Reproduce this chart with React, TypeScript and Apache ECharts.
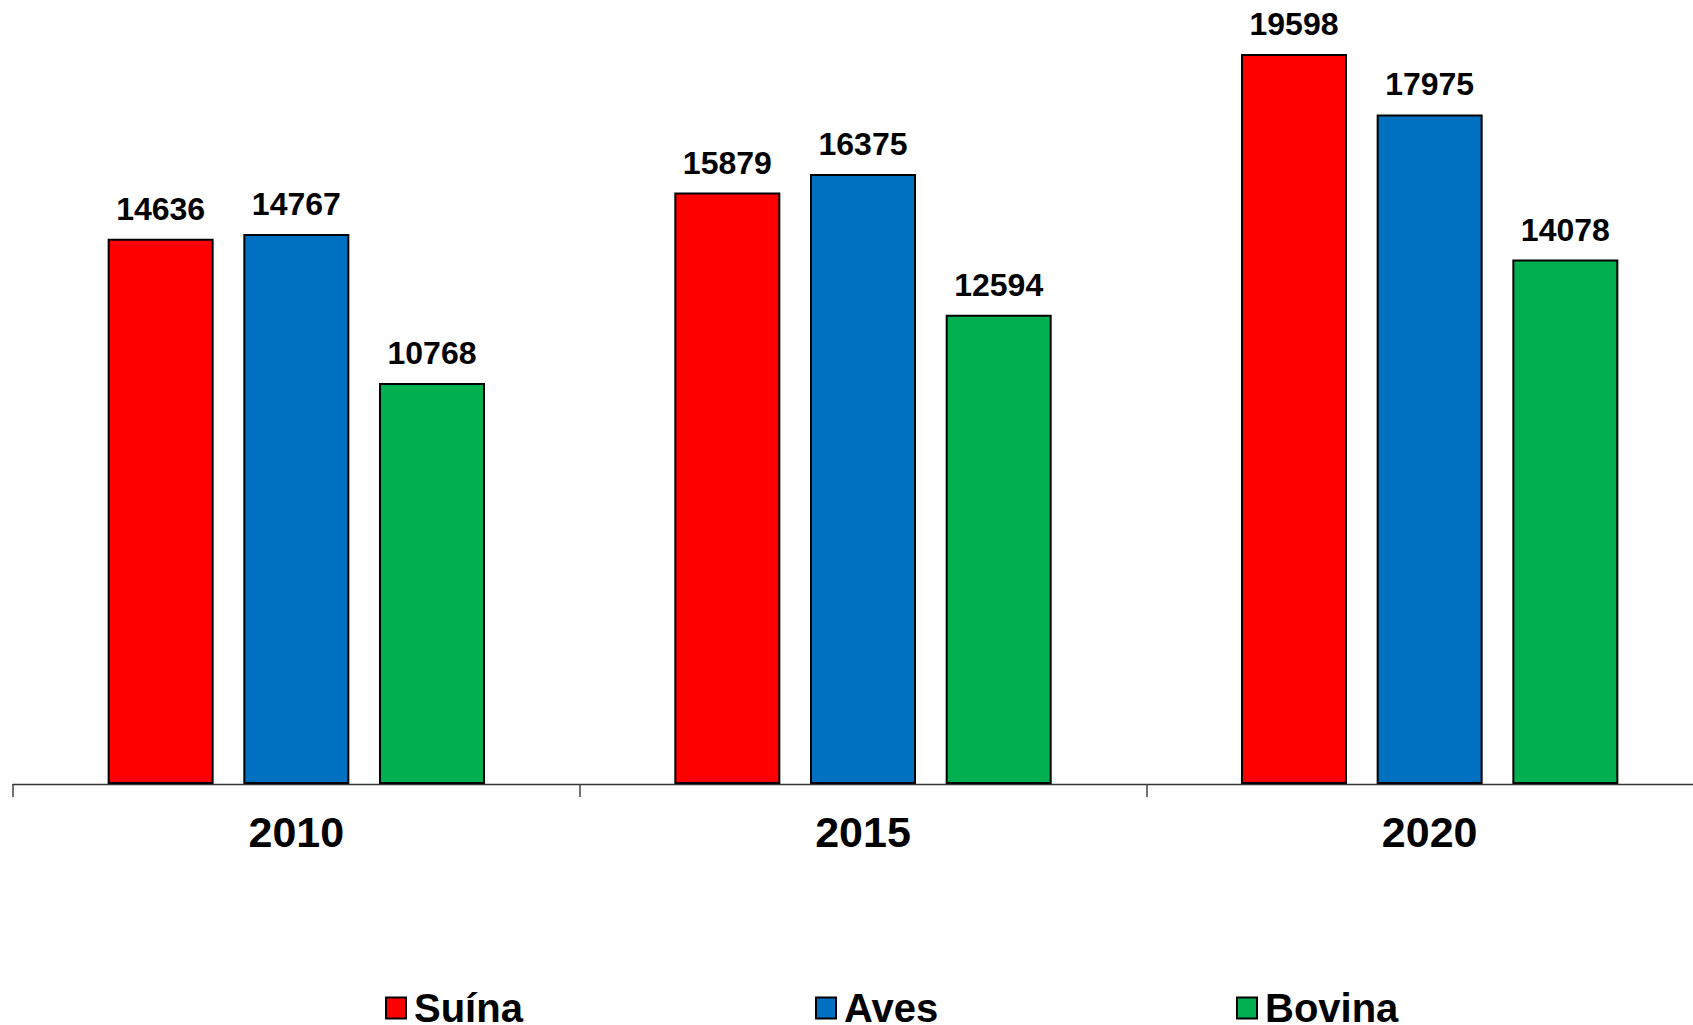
import React, { useEffect, useRef } from "react";
import * as echarts from "echarts";

const categories = ["2010", "2015", "2020"];
const suina = [14636, 15879, 19598];
const aves = [14767, 16375, 17975];
const bovina = [10768, 12594, 14078];
const seriesNames = ["Suína", "Aves", "Bovina"];
const colors = ["#FF0000", "#0070C0", "#00B050"];

const FONT = '"Liberation Sans", Arial, Helvetica, sans-serif';

export default function App() {
  const ref = useRef<HTMLDivElement>(null);
  useEffect(() => {
    if (!ref.current) return;
    document.documentElement.style.overflow = "hidden";
    document.body.style.overflow = "hidden";
    const chart = echarts.init(ref.current, undefined, { renderer: "svg" });
    const dataSets = [suina, aves, bovina];
    const legendLefts = [385, 815, 1236];
    chart.setOption({
      animation: false,
      backgroundColor: "#ffffff",
      textStyle: { fontFamily: FONT },
      grid: { left: 13, top: 1.75, width: 1700, height: 782.25 },
      xAxis: {
        type: "category",
        data: categories,
        boundaryGap: true,
        axisLine: { show: true, lineStyle: { color: "#333333", width: 1.3 } },
        axisTick: { show: true, length: 13, lineStyle: { color: "#444444", width: 1.5 } },
        axisLabel: {
          margin: 26,
          fontSize: 43,
          fontWeight: "bold",
          color: "#000000",
          fontFamily: FONT,
        },
      },
      yAxis: {
        type: "value",
        min: 0,
        max: 21000,
        show: false,
        splitLine: { show: false },
      },
      legend: seriesNames.map((n, i) => ({
        data: [n],
        left: legendLefts[i],
        top: 988,
        padding: 0,
        icon: "rect",
        itemWidth: 20,
        itemHeight: 21,
        itemStyle: { borderColor: "#000000", borderWidth: 2 },
        textStyle: {
          fontSize: 40,
          fontWeight: "bold",
          color: "#000000",
          fontFamily: FONT,
          padding: [0, 0, 0, 3],
        },
      })),
      series: seriesNames.map((n, i) => ({
        name: n,
        type: "bar",
        data: dataSets[i],
        barWidth: 106,
        barGap: "28%",
        itemStyle: { color: colors[i], borderColor: "#000000", borderWidth: 2 },
        label: {
          show: true,
          position: "top",
          distance: 14,
          fontSize: 32,
          fontWeight: "bold",
          color: "#000000",
          fontFamily: FONT,
        },
      })),
    });
    return () => chart.dispose();
  }, []);
  return (
    <div
      ref={ref}
      style={{ position: "fixed", left: 0, top: 0, width: 1713, height: 1025 }}
    />
  );
}
